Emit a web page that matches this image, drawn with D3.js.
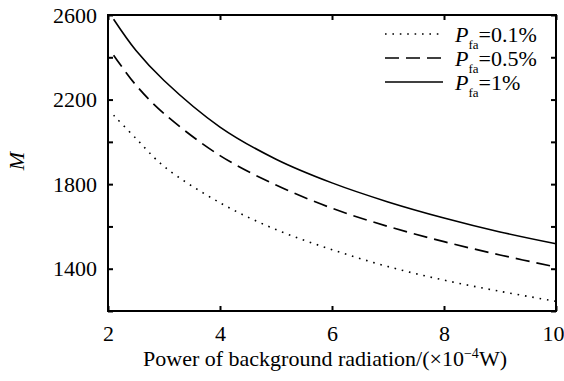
<!DOCTYPE html>
<html>
<head>
<meta charset="utf-8">
<script src="https://cdn.jsdelivr.net/npm/d3@7"></script>
<style>
  body { margin: 0; background: #fff; }
</style>
</head>
<body>
<div id="chart"></div>
<script>
// power of background radiation (x10^-4 W)
const powerValues = [2.1, 2.5, 3, 4, 5, 6, 7, 8, 9, 10];
// M for each false alarm probability
const mPfa01 = [2126, 2016, 1884, 1712, 1585, 1490, 1410, 1346, 1293, 1246];
const mPfa05 = [2410, 2268, 2134, 1935, 1796, 1686, 1600, 1528, 1465, 1408];
const mPfa1 = [2580, 2432, 2290, 2070, 1918, 1806, 1716, 1640, 1574, 1518];
const seriesNames = ["0.1%", "0.5%", "1%"];
const xTicks = [2, 4, 6, 8, 10];
const yTicks = [1200, 1400, 1600, 1800, 2000, 2200, 2400, 2600];

const FONT = "'Liberation Serif', 'Times New Roman', Times, serif";
const W = 564, H = 381;
const margin = { top: 15, right: 8, bottom: 70, left: 108 },
    width = W - margin.left - margin.right,
    height = H - margin.top - margin.bottom;

const svg = d3.select("#chart").append("svg")
    .attr("width", W)
    .attr("height", H)
    .attr("font-family", FONT);

const g = svg.append("g")
    .attr("transform", `translate(${margin.left},${margin.top})`);

const x = d3.scaleLinear().domain([2, 10]).range([0, width]);
const y = d3.scaleLinear().domain([1200, 2600]).range([height, 0]);

// bottom axis
const xAxis = g.append("g")
    .attr("transform", `translate(0,${height})`)
    .call(d3.axisBottom(x).tickValues(xTicks).tickSizeInner(-5).tickSizeOuter(0).tickPadding(14));
// left axis
const yAxis = g.append("g")
    .call(d3.axisLeft(y).tickValues(yTicks).tickSizeInner(-5).tickSizeOuter(0).tickPadding(11)
        .tickFormat(d => (d - 1400) % 400 === 0 ? d : ""));
// top and right, ticks only
const topAxis = g.append("g")
    .call(d3.axisTop(x).tickValues(xTicks).tickSizeInner(-5).tickSizeOuter(0).tickFormat(""));
const rightAxis = g.append("g")
    .attr("transform", `translate(${width},0)`)
    .call(d3.axisRight(y).tickValues(yTicks).tickSizeInner(-5).tickSizeOuter(0).tickFormat(""));

[xAxis, yAxis, topAxis, rightAxis].forEach(a => {
    a.attr("font-family", FONT).attr("font-size", 22);
    a.select(".domain").remove();
    a.selectAll("line").attr("stroke", "#000").attr("stroke-width", 2);
    a.selectAll("text").attr("fill", "#000");
});
// last x label sits against the page edge
xAxis.selectAll(".tick text").filter(d => d === 10).attr("dx", -3);

// frame
g.append("rect")
    .attr("width", width)
    .attr("height", height)
    .attr("fill", "none")
    .attr("stroke", "#000")
    .attr("stroke-width", 2);

// lines
const styles = [
    { dash: "1.6,5.8", w: 1.6 },
    { dash: "14,7", w: 1.7 },
    { dash: null, w: 1.6 }
];
const seriesValues = [mPfa01, mPfa05, mPfa1];

const line = d3.line()
    .x(d => x(d[0]))
    .y(d => y(d[1]))
    .curve(d3.curveCatmullRom.alpha(0.5));

seriesValues.forEach((vals, i) => {
    g.append("path")
        .datum(powerValues.map((p, j) => [p, vals[j]]))
        .attr("fill", "none")
        .attr("stroke", "#000")
        .attr("stroke-width", styles[i].w)
        .attr("stroke-dasharray", styles[i].dash)
        .attr("d", line);
});

// legend
const legend = g.append("g").attr("transform", "translate(277,19)");
seriesNames.forEach((name, i) => {
    const row = legend.append("g").attr("transform", `translate(0,${i * 24})`);
    row.append("line")
        .attr("x1", 0).attr("x2", 58)
        .attr("stroke", "#000")
        .attr("stroke-width", styles[i].w)
        .attr("stroke-dasharray", styles[i].dash);
    const t = row.append("text")
        .attr("x", 70)
        .attr("y", 8)
        .attr("font-size", 22);
    t.append("tspan").attr("font-style", "italic").text("P");
    t.append("tspan").attr("dy", 7).attr("font-size", 13).text("fa");
    t.append("tspan").attr("dy", -7).text("=" + name);
});

// axis titles
svg.append("text")
    .attr("x", 325)
    .attr("y", 366)
    .attr("text-anchor", "middle")
    .attr("font-size", 22)
    .call(t => {
        t.append("tspan").text("Power of background radiation/(\u00d710");
        t.append("tspan").attr("dy", -8).attr("font-size", 14).text("\u22124");
        t.append("tspan").attr("dy", 8).text("W)");
    });

svg.append("text")
    .attr("transform", "translate(24,161) rotate(-90)")
    .attr("text-anchor", "middle")
    .attr("font-size", 22)
    .attr("font-style", "italic")
    .text("M");
</script>
</body>
</html>
